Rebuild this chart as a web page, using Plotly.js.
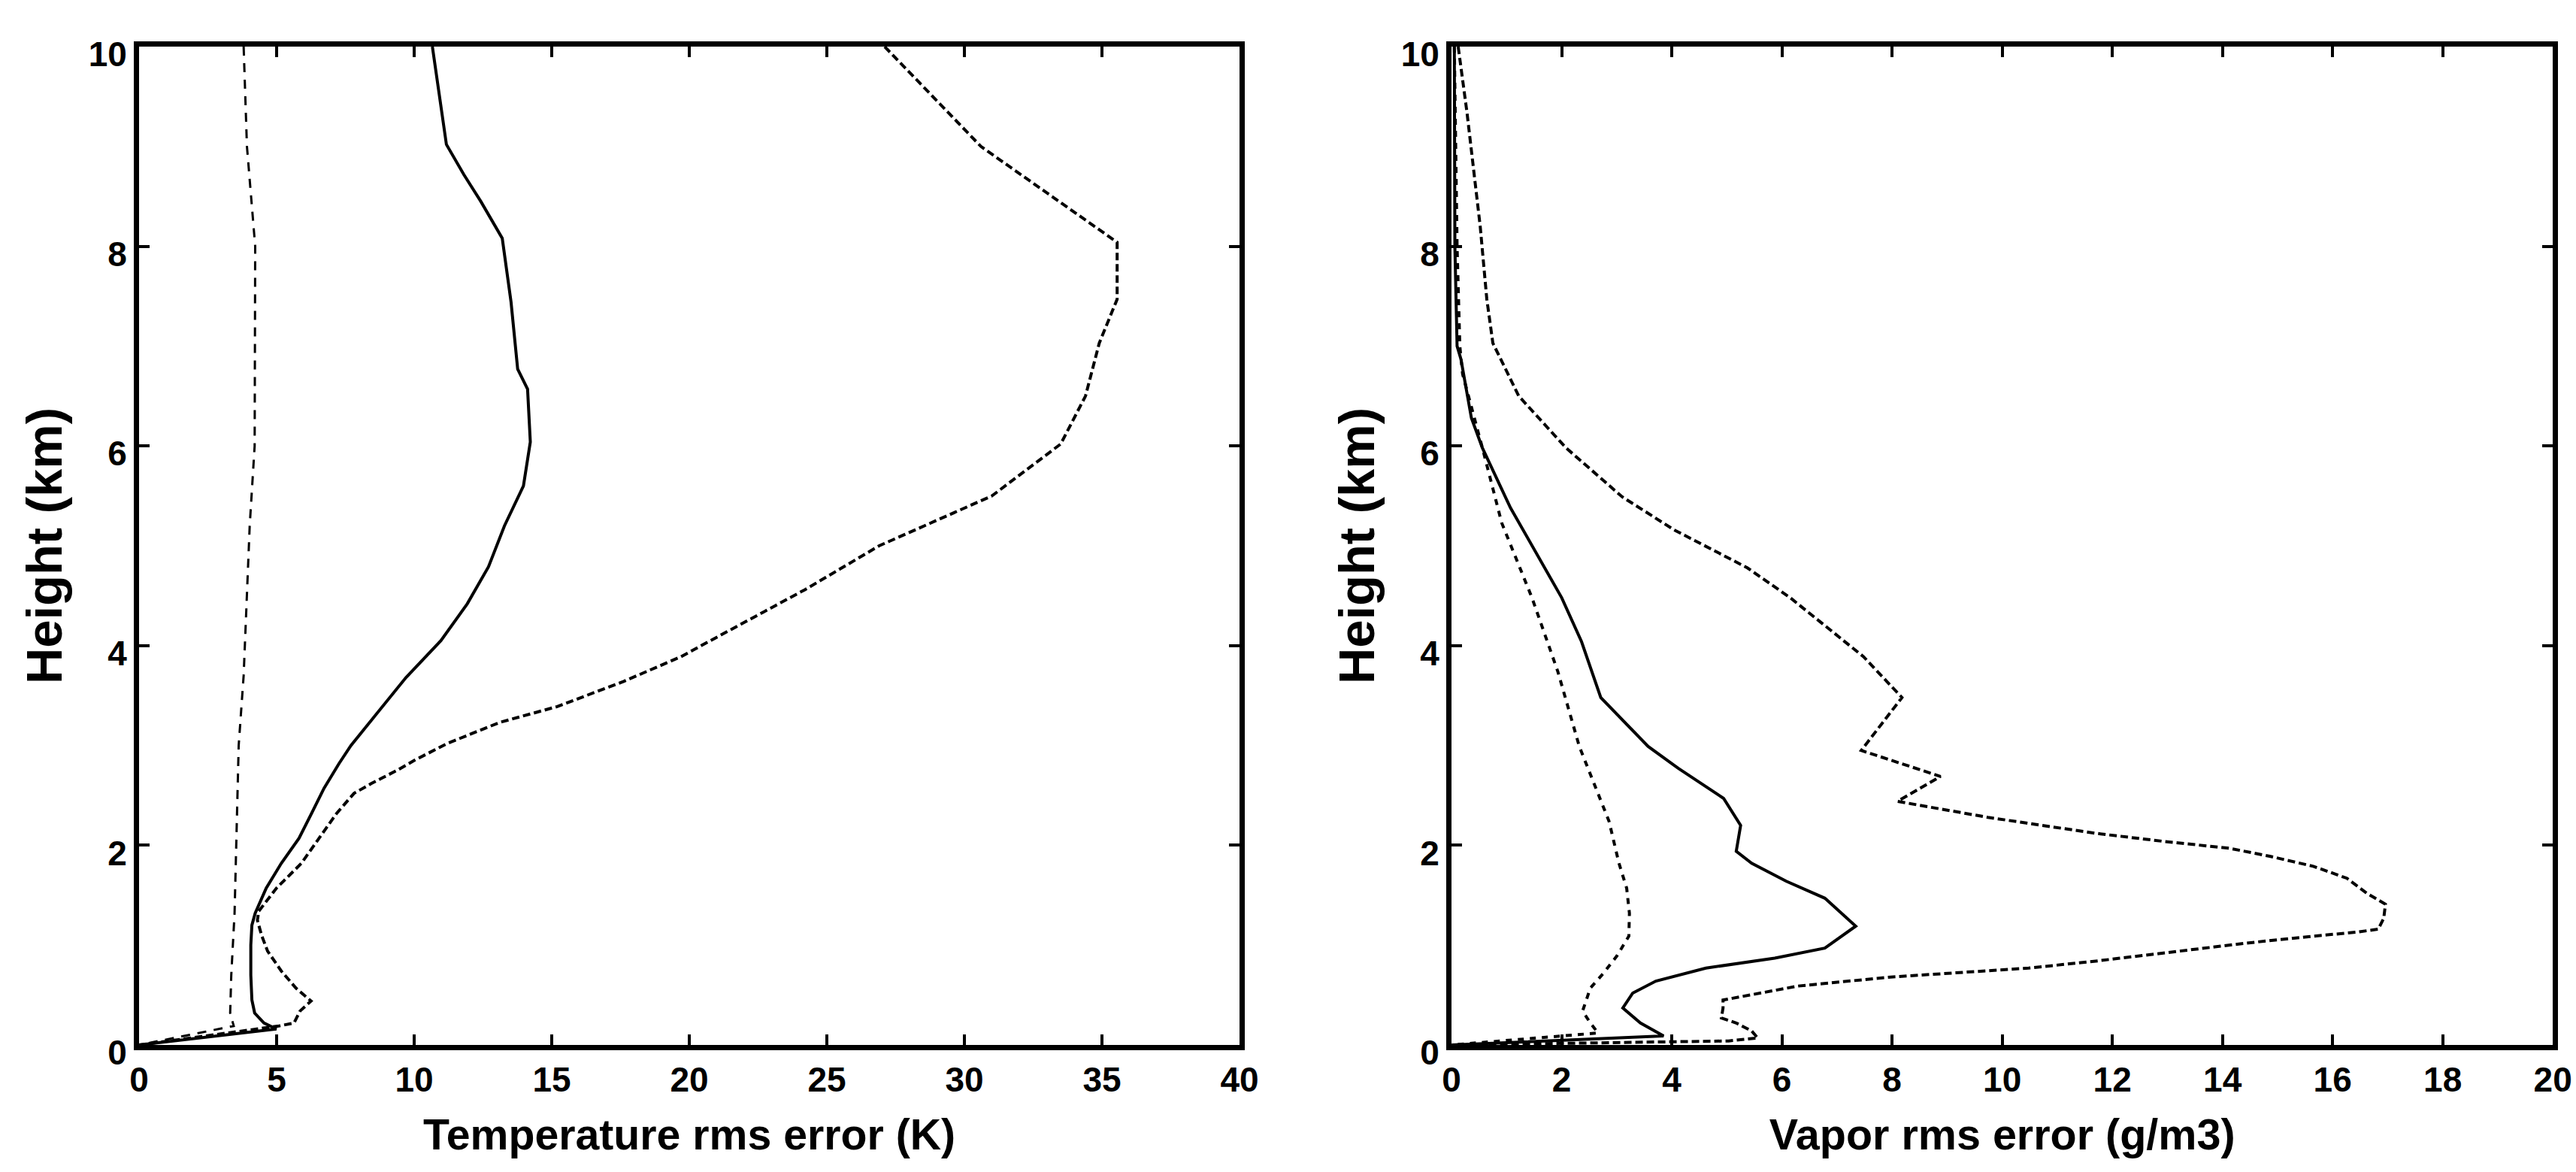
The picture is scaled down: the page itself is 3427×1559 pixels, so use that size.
<!DOCTYPE html>
<html><head><meta charset="utf-8">
<script src="https://cdn.plot.ly/plotly-3.0.1.min.js"></script>
<style>html,body{margin:0;padding:0;background:#fff}#chart{width:3427px;height:1559px}</style>
</head><body><div id="chart"></div>
<script>
// ---- Left panel: temperature rms error (K) vs height (km)
const tempThinH = [10, 9, 8, 7, 6, 5.2, 4.05, 3.7, 3.0, 2.07, 1.32, 0.7, 0.32, 0.19, 0];
const tempThinV = [3.8, 3.92, 4.22, 4.22, 4.2, 4.02, 3.85, 3.8, 3.62, 3.53, 3.47, 3.35, 3.31, 3.44, 0];

const tempSolidH = [10, 9.02, 8.72, 8.45, 8.08, 7.44, 6.77, 6.57, 6.04, 5.6, 5.2, 4.79, 4.42, 4.05, 3.68, 3.35, 3.0, 2.82, 2.57, 2.32, 2.07, 1.82, 1.57, 1.32, 1.2, 1.0, 0.7, 0.45, 0.32, 0.22, 0.18, 0.16, 0];
const tempSolidV = [10.66, 11.17, 11.8, 12.42, 13.2, 13.52, 13.76, 14.12, 14.22, 13.97, 13.28, 12.7, 11.93, 10.97, 9.7, 8.74, 7.7, 7.27, 6.72, 6.27, 5.81, 5.17, 4.62, 4.22, 4.1, 4.06, 4.06, 4.1, 4.2, 4.54, 4.81, 4.99, 0];

const tempDashH = [10, 9.0, 8.04, 7.47, 7.03, 6.5, 6.02, 5.5, 5.0, 4.56, 4.04, 3.89, 3.64, 3.39, 3.23, 3.02, 2.85, 2.75, 2.62, 2.52, 2.32, 2.07, 1.82, 1.57, 1.34, 1.25, 1.1, 0.94, 0.74, 0.57, 0.44, 0.34, 0.22, 0.19, 0];
const tempDashV = [27.1, 30.6, 35.55, 35.55, 34.9, 34.4, 33.5, 31.0, 26.9, 24.2, 20.7, 19.7, 17.6, 15.2, 13.1, 11.2, 10.0, 9.37, 8.45, 7.81, 7.18, 6.53, 5.9, 4.99, 4.35, 4.3, 4.45, 4.67, 5.17, 5.7, 6.25, 5.85, 5.63, 5.08, 0];

// ---- Right panel: vapor rms error (g/m3) vs height (km)
const vaporDashH = [10, 9.34, 8.2, 7.47, 7.03, 6.5, 5.98, 5.49, 5.16, 4.78, 4.48, 3.89, 3.48, 2.95, 2.69, 2.44, 2.28, 2.22, 2.12, 2.04, 1.97, 1.89, 1.79, 1.67, 1.52, 1.41, 1.27, 1.16, 1.13, 1.09, 1.02, 0.94, 0.84, 0.77, 0.68, 0.59, 0.45, 0.37, 0.27, 0.22, 0.14, 0.07, 0.04, 0];
const vaporDashV = [0.12, 0.28, 0.52, 0.64, 0.75, 1.22, 2.08, 3.1, 4.04, 5.37, 6.15, 7.48, 8.18, 7.44, 8.88, 8.1, 9.74, 10.48, 11.7, 12.92, 14.13, 14.86, 15.65, 16.26, 16.62, 16.96, 16.93, 16.83, 16.44, 15.65, 14.43, 13.22, 11.7, 10.48, 7.97, 6.29, 4.93, 4.93, 4.9, 5.17, 5.45, 5.56, 5.03, 0];

const vaporSolidH = [10, 8, 7, 6.87, 6.28, 5.98, 5.38, 4.93, 4.48, 4.04, 3.48, 2.99, 2.77, 2.47, 2.2, 1.94, 1.82, 1.64, 1.47, 1.19, 0.97, 0.87, 0.77, 0.64, 0.52, 0.37, 0.22, 0.09, 0];
const vaporSolidV = [0.05, 0.06, 0.1, 0.17, 0.36, 0.56, 1.07, 1.54, 2.0, 2.36, 2.71, 3.57, 4.12, 4.94, 5.25, 5.17, 5.45, 6.08, 6.78, 7.34, 6.78, 5.87, 4.62, 3.71, 3.29, 3.11, 3.43, 3.85, 0];

const vaporDotH = [10, 8, 7, 6.72, 5.98, 5.23, 4.48, 3.74, 2.99, 2.24, 1.82, 1.57, 1.32, 1.09, 0.89, 0.72, 0.57, 0.34, 0.22, 0.12, 0];
const vaporDotV = [0.05, 0.1, 0.15, 0.2, 0.56, 0.91, 1.46, 1.93, 2.32, 2.86, 3.04, 3.18, 3.23, 3.22, 3.0, 2.76, 2.52, 2.38, 2.52, 2.66, 0];

// ---- Tick labels / titles
const tempTicks = [0, 5, 10, 15, 20, 25, 30, 35, 40];
const vaporTicks = [0, 2, 4, 6, 8, 10, 12, 14, 16, 18, 20];
const heightTicks = [0, 2, 4, 6, 8, 10];
const tempTitle = 'Temperature rms error (K)';
const vaporTitle = 'Vapor rms error (g/m3)';
const heightTitle = 'Height (km)';

const FAM = "'Liberation Sans', Arial, Helvetica, sans-serif";
const BLK = '#000';

// font size so that the text spans a given width in px
function fitSize(text, px) {
  const ctx = document.createElement('canvas').getContext('2d');
  ctx.font = 'bold 100px ' + FAM;
  return 100 * px / ctx.measureText(text).width;
}
const tempTitleSize = fitSize(tempTitle, 708);
const vaporTitleSize = fitSize(vaporTitle, 620);
const heightTitleSize = fitSize(heightTitle, 368);
const tickSize = 46;

function tr(x, y, xa, ya, dash, w) {
  return {x: x, y: y, xaxis: xa, yaxis: ya, type: 'scatter', mode: 'lines',
          line: {color: BLK, width: w, dash: dash}, hoverinfo: 'skip', showlegend: false};
}

const data = [
  tr(tempThinV, tempThinH, 'x', 'y', '12px,10px', 3),
  tr(tempSolidV, tempSolidH, 'x', 'y', 'solid', 4),
  tr(tempDashV, tempDashH, 'x', 'y', '10px,5px', 4),
  tr(vaporDashV, vaporDashH, 'x2', 'y2', '10px,5px', 4),
  tr(vaporSolidV, vaporSolidH, 'x2', 'y2', 'solid', 4),
  tr(vaporDotV, vaporDotH, 'x2', 'y2', '8px,8px', 4)
];

function xax(domain, range, ticks, title, tsize, anchor) {
  return {domain: domain, range: range, tickvals: ticks, ticktext: ticks.map(String),
    ticks: 'inside', ticklen: 14, tickwidth: 4, tickcolor: BLK,
    showline: true, linewidth: 7, linecolor: BLK, mirror: 'ticks',
    showgrid: false, zeroline: false, anchor: anchor,
    tickfont: {family: FAM, size: tickSize, color: BLK, weight: 'bold'},
    title: {text: title, font: {family: FAM, size: tsize, color: BLK, weight: 'bold'}, standoff: 30}};
}
function yax(range, ticks, title, anchor) {
  return {domain: [0.1084, 0.9602], range: range, tickvals: ticks, ticktext: ticks.map(String),
    ticks: 'inside', ticklen: 14, tickwidth: 4, tickcolor: BLK,
    showline: true, linewidth: 7, linecolor: BLK, mirror: 'ticks',
    showgrid: false, zeroline: false, anchor: anchor, ticklabelshift: 10,
    tickfont: {family: FAM, size: tickSize, color: BLK, weight: 'bold'},
    title: {text: title, font: {family: FAM, size: heightTitleSize, color: BLK, weight: 'bold'}, standoff: 16}};
}

const layout = {
  width: 3427, height: 1559,
  margin: {l: 0, r: 0, t: 0, b: 0},
  paper_bgcolor: '#fff', plot_bgcolor: '#fff',
  showlegend: false,
  xaxis: xax([0.054, 0.4812], [0, 40], tempTicks, tempTitle, tempTitleSize, 'y'),
  yaxis: yax([0, 10], heightTicks, heightTitle, 'x'),
  xaxis2: xax([0.5635, 0.991], [0, 20], vaporTicks, vaporTitle, vaporTitleSize, 'y2'),
  yaxis2: yax([0, 10], heightTicks, heightTitle, 'x2')
};

Plotly.newPlot('chart', data, layout, {staticPlot: true, displayModeBar: false});
</script></body></html>
